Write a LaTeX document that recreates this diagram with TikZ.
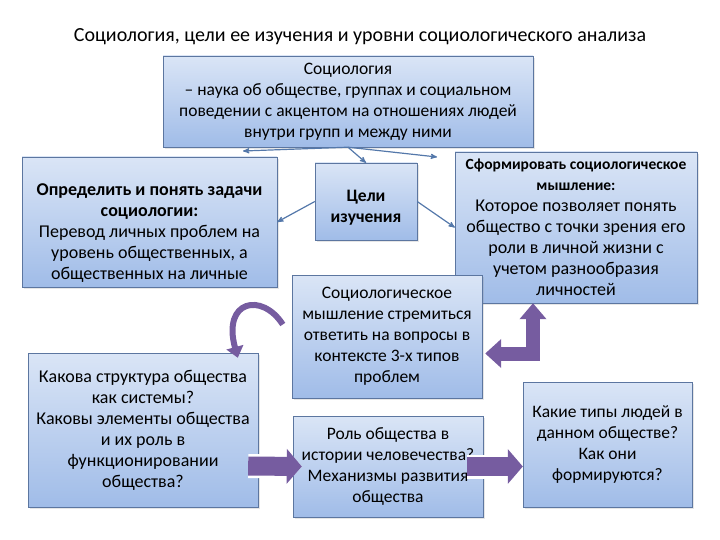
\documentclass[tikz,border=0pt]{standalone}
\usepackage{fontspec}
\setmainfont{Carlito}
\usepackage{tikz}
\usetikzlibrary{arrows,arrows.meta,shadows}
\definecolor{boxtop}{RGB}{218,229,246}
\definecolor{boxbot}{RGB}{160,188,232}
\definecolor{boxline}{RGB}{92,118,160}
\definecolor{lineblue}{RGB}{84,120,170}
\definecolor{purp}{RGB}{118,92,160}

\begin{document}
\begin{tikzpicture}[x=1pt,y=-1pt,>=stealth',auto,
                    font=\fontsize{17.5}{21}\selectfont]
  \tikzstyle{box}=[rectangle,draw=boxline,top color=boxtop,bottom color=boxbot,
                   align=center,inner sep=2pt,
                   drop shadow={opacity=0.2,shadow xshift=2pt,shadow yshift=-2pt}]
  \tikzstyle{big}=[font=\fontsize{18}{21}\selectfont]
  \tikzstyle{link}=[draw=lineblue,line width=1.2pt,->]
  \tikzstyle{fat}=[draw=purp,line width=19pt,-{Triangle[length=15pt,width=34pt]},
                   preaction={draw=white,line width=24pt,-{Triangle[length=19pt,width=42pt]}}]

  \useasboundingbox (0,0) rectangle (720,540);

  \node (title) at (360,37) {\fontsize{20}{24}\selectfont Социология, цели ее изучения и уровни социологического анализа};

  \node[box,minimum width=370pt,minimum height=91pt] (soc) at (348,101.5)
    {Социология\\ – наука об обществе, группах и социальном\\ поведении с акцентом на отношениях людей\\ внутри групп и между ними};
  \node[box,big,minimum width=255pt,minimum height=130pt] (tasks) at (149.5,222)
    {\rule{0pt}{33pt}\textbf{Определить и понять задачи}\\ \textbf{социологии:}\\ Перевод личных проблем на\\ уровень общественных, а\\ общественных на личные};
  \node[box,minimum width=102pt,minimum height=77pt] (goals) at (366,201.5)
    {\rule{0pt}{24pt}\textbf{Цели}\\ \textbf{изучения}};
  \node[box,big,minimum width=242pt,minimum height=151pt] (form) at (576,227.5)
    {{\fontsize{15.5}{19}\selectfont\bfseries Сформировать социологическое}\\
     {\fontsize{15.5}{19}\selectfont\bfseries мышление:}\\ Которое позволяет понять\\
     общество с точки зрения его\\ роли в личной жизни с\\ учетом разнообразия\\ личностей};
  \node[box,minimum width=190pt,minimum height=123pt] (think) at (387,336.5)
    {Социологическое\\ мышление стремиться\\ ответить на вопросы в\\ контексте 3-х типов\\ проблем};
  \node[box,big,minimum width=230pt,minimum height=154pt] (struct) at (143,430)
    {Какова структура общества\\ как системы?\\ Каковы элементы общества\\ и их роль в\\ функционировании\\ общества?};
  \node[box,minimum width=190pt,minimum height=101pt] (role) at (388,466.5)
    {Роль общества в\\ истории человечества?\\ Механизмы развития\\ общества};
  \node[box,minimum width=169pt,minimum height=125pt] (types) at (607.5,444.5)
    {Какие типы людей в\\ данном обществе?\\ Как они\\ формируются?};

  % free ends of the branches under the top box
  \coordinate (toleft) at (243,151);
  \coordinate (toright) at (437,157);

  \path (soc.south) edge[link] (goals.north)
        (soc.south) edge[link] (toleft)
        (soc.south) edge[link] (toright)
        (goals.west) edge[link] (tasks.east)
        (goals.east) edge[link] (form.west);

  % purple arrows
  \draw[draw=purp,line width=6pt,-{Triangle[length=11pt,width=17pt]}]
    ([xshift=-9pt,yshift=12pt]think.west) .. controls (262,292) and (222,300) .. ([xshift=210pt,yshift=-5pt]struct.north west);
  \draw[draw=purp,line width=14pt,line join=miter,
        {Triangle[length=16pt,width=28pt]}-{Triangle[length=16pt,width=26pt]}]
    ([xshift=3pt,yshift=-17pt]think.east) -| ([xshift=-43pt]form.south);
  \draw[fat] ([xshift=-10pt,yshift=-36pt]struct.east) -- ([xshift=9pt]role.west);
  \draw[fat] ([xshift=-16pt]role.east) -- ([yshift=-22pt]types.west);
\end{tikzpicture}
\end{document}
